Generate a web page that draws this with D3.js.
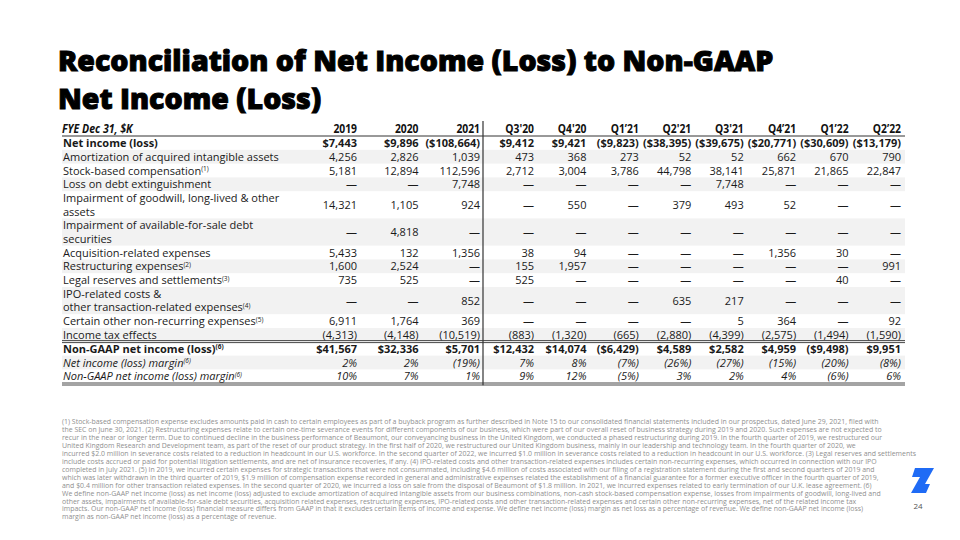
<!DOCTYPE html>
<html>
<head>
<meta charset="utf-8">
<script src="https://cdn.jsdelivr.net/npm/d3@7"></script>
<style>
body { margin: 0; background: #fff; }
svg text { font-family: "Open Sans", sans-serif; }
</style>
</head>
<body>
<div id="slide"></div>
<script>
// column headers
var periods = ["2019", "2020", "2021", "Q3'20", "Q4'20", "Q1\u201921", "Q2'21", "Q3'21", "Q4\u201921", "Q1\u201922", "Q2\u201922"];

// values in $K, null = dash
var netIncome = [7443, 9896, -108664, 9412, 9421, -9823, -38395, -39675, -20771, -30609, -13179];
var amortization = [4256, 2826, 1039, 473, 368, 273, 52, 52, 662, 670, 790];
var stockComp = [5181, 12894, 112596, 2712, 3004, 3786, 44798, 38141, 25871, 21865, 22847];
var debtLoss = [null, null, 7748, null, null, null, null, 7748, null, null, null];
var goodwillImpairment = [14321, 1105, 924, null, 550, null, 379, 493, 52, null, null];
var afsImpairment = [null, 4818, null, null, null, null, null, null, null, null, null];
var acquisition = [5433, 132, 1356, 38, 94, null, null, null, 1356, 30, null];
var restructuring = [1600, 2524, null, 155, 1957, null, null, null, null, null, 991];
var legalReserves = [735, 525, null, 525, null, null, null, null, null, 40, null];
var ipoCosts = [null, null, 852, null, null, null, 635, 217, null, null, null];
var otherNonRecurring = [6911, 1764, 369, null, null, null, null, 5, 364, null, 92];
var incomeTax = [-4313, -4148, -10519, -883, -1320, -665, -2880, -4399, -2575, -1494, -1590];
var nonGaapNetIncome = [41567, 32336, 5701, 12432, 14074, -6429, 4589, 2582, 4959, -9498, 9951];
// percent
var netMargin = [2, 2, -19, 7, 8, -7, -26, -27, -15, -20, -8];
var nonGaapMargin = [10, 7, 1, 9, 12, -5, 3, 2, 4, -6, 6];

var titleLines = ["Reconciliation of Net Income (Loss) to Non-GAAP", "Net Income (Loss)"];

var footnotes = [
  "(1) Stock-based compensation expense excludes amounts paid in cash to certain employees as part of a buyback program as further described in Note 15 to our consolidated financial statements included in our prospectus, dated June 29, 2021, filed with",
  "the SEC on June 30, 2021. (2) Restructuring expenses relate to certain one-time severance events for different components of our business, which were part of our overall reset of business strategy during 2019 and 2020. Such expenses are not expected to",
  "recur in the near or longer term. Due to continued decline in the business performance of Beaumont, our conveyancing business in the United Kingdom, we conducted a phased restructuring during 2019. In the fourth quarter of 2019, we restructured our",
  "United Kingdom Research and Development team, as part of the reset of our product strategy. In the first half of 2020, we restructured our United Kingdom business, mainly in our leadership and technology team.  In the fourth quarter of 2020, we",
  "incurred $2.0 million in severance costs related to a reduction in headcount in our U.S. workforce. In the second quarter of 2022, we incurred $1.0 million in severance costs related to a reduction in headcount in our U.S. workforce. (3) Legal reserves and settlements",
  "include costs accrued or paid for potential litigation settlements, and are net of insurance recoveries, if any. (4) IPO-related costs and other transaction-related expenses includes certain non-recurring expenses, which occurred in connection with our IPO",
  "completed in July 2021. (5) In 2019, we incurred certain expenses for strategic transactions that were not consummated, including $4.6 million of costs associated with our filing of a registration statement during the first and second quarters of 2019 and",
  "which was later withdrawn in the third quarter of 2019, $1.9 million of compensation expense recorded in general and administrative expenses related the establishment of a financial guarantee for a former executive officer in the fourth quarter of 2019,",
  "and $0.4 million for other transaction related expenses. In the second quarter of 2020, we incurred a loss on sale from the disposal of Beaumont of $1.8 million. In 2021, we incurred expenses related to early termination of our U.K. lease agreement. (6)",
  "We define non-GAAP net income (loss) as net income (loss) adjusted to exclude amortization of acquired intangible assets from our business combinations, non-cash stock-based compensation expense, losses from impairments of goodwill, long-lived and",
  "other assets, impairments of available-for-sale debt securities, acquisition related expenses, restructuring expenses, IPO-related costs and other transaction-related expenses and certain other non-recurring expenses, net of the related income tax",
  "impacts. Our non-GAAP net income (loss) financial measure differs from GAAP in that it excludes certain items of income and expense. We define net income (loss) margin as net loss as a percentage of revenue. We define non-GAAP net income (loss)",
  "margin as non-GAAP net income (loss) as a percentage of revenue."
];

var rows = [
  { label: ["Net income (loss)"], values: netIncome, kind: "dollar", weight: "bold" },
  { label: ["Amortization of acquired intangible assets"], values: amortization, kind: "num" },
  { label: ["Stock-based compensation"], sup: "(1)", values: stockComp, kind: "num" },
  { label: ["Loss on debt extinguishment"], values: debtLoss, kind: "num" },
  { label: ["Impairment of goodwill, long-lived & other", "assets"], values: goodwillImpairment, kind: "num" },
  { label: ["Impairment of available-for-sale debt", "securities"], values: afsImpairment, kind: "num" },
  { label: ["Acquisition-related expenses"], values: acquisition, kind: "num" },
  { label: ["Restructuring expenses"], sup: "(2)", values: restructuring, kind: "num" },
  { label: ["Legal reserves and settlements"], sup: "(3)", values: legalReserves, kind: "num" },
  { label: ["IPO-related costs &", "other transaction-related expenses"], sup: "(4)", values: ipoCosts, kind: "num" },
  { label: ["Certain other non-recurring expenses"], sup: "(5)", values: otherNonRecurring, kind: "num" },
  { label: ["Income tax effects"], values: incomeTax, kind: "num" },
  { label: ["Non-GAAP net income (loss)"], sup: "(6)", values: nonGaapNetIncome, kind: "dollar", weight: "bold" },
  { label: ["Net income (loss) margin"], sup: "(6)", values: netMargin, kind: "pct", italic: true },
  { label: ["Non-GAAP net income (loss) margin"], sup: "(6)", values: nonGaapMargin, kind: "pct", italic: true }
];

var width = 960, height = 540;
var left = 62, right = 905;
var rowH = 13.8, doubleH = 27.2, lineGap = 13.6;
var headerTop = 121, headerH = 15;

var svg = d3.select("#slide").append("svg")
    .attr("width", width)
    .attr("height", height);

var comma = d3.format(",");
function fmtValue(v, kind) {
    if (v === null) return "\u2014";
    if (kind === "pct") return v < 0 ? "(" + (-v) + "%)" : v + "%";
    if (kind === "dollar") return v < 0 ? "($" + comma(-v) + ")" : "$" + comma(v);
    return v < 0 ? "(" + comma(-v) + ")" : comma(v);
}

// squeeze text horizontally (condensed look)
function squeeze(sel, factor) {
    sel.each(function () {
        var len = this.getComputedTextLength();
        d3.select(this).attr("textLength", len * factor).attr("lengthAdjust", "spacingAndGlyphs");
    });
}

// x positions: right edges of the number columns
var xAnnual = d3.scaleLinear().domain([0, 2]).range([357, 480]);
var xQuarter = d3.scaleLinear().domain([3, 10]).range([534, 901]);
function colX(i) { return i < 3 ? xAnnual(i) : xQuarter(i); }

// y positions: cumulative row heights
var acc = headerTop + headerH;
rows.forEach(function (r) {
    r.h = r.label.length > 1 ? doubleH : rowH;
    r.y = acc;
    acc += r.h;
});
var tableBottom = acc;

// title: one text, two lines, squeezed to a condensed width
var title = svg.append("text")
    .style("font-size", "29px").style("font-weight", 800)
    .attr("fill", "#000").attr("stroke", "#000").attr("stroke-width", 1);
title.selectAll("tspan")
    .data(titleLines)
    .enter().append("tspan")
    .attr("x", 58)
    .attr("y", function (d, i) { return 71 + i * 38; })
    .text(function (d) { return d; });
var factor = 716 / title.select("tspan").node().getComputedTextLength();
title.attr("transform", "translate(58,0) scale(" + factor + ",1) translate(-58,0)");

// row backgrounds (every other row)
svg.selectAll(".band")
    .data(rows.filter(function (r, i) { return i % 2 === 1; }))
    .enter().append("rect")
    .attr("class", "band")
    .attr("x", left).attr("width", right - left)
    .attr("y", function (d) { return d.y; })
    .attr("height", function (d) { return d.h; })
    .attr("fill", "#f2f2f2");

// header row
var head = svg.append("g");
head.append("text")
    .attr("x", left).attr("y", headerTop + headerH / 2 + 4)
    .style("font-size", "12px").style("font-weight", 700).style("font-style", "italic")
    .attr("fill", "#111")
    .text("FYE Dec 31, $K")
    .call(squeeze, 0.88);
head.selectAll(".period")
    .data(periods)
    .enter().append("text")
    .attr("class", "period")
    .attr("x", function (d, i) { return colX(i); })
    .attr("y", headerTop + headerH / 2 + 4)
    .attr("text-anchor", "end")
    .style("font-size", "12px").style("font-weight", 700)
    .attr("fill", "#111")
    .text(function (d) { return d; })
    .call(squeeze, 0.86);

// body rows
var rowG = svg.selectAll(".row")
    .data(rows)
    .enter().append("g")
    .attr("class", "row")
    .attr("transform", function (d) { return "translate(0," + d.y + ")"; });

rowG.each(function (r) {
    var g = d3.select(this);
    var firstBase = r.h / 2 + 4 - (r.label.length - 1) * lineGap / 2;
    // one text per label, wrapped lines as tspans
    var t = g.append("text")
        .attr("y", firstBase)
        .style("font-size", "11px")
        .style("font-weight", r.weight || 400)
        .style("font-style", r.italic ? "italic" : "normal")
        .attr("fill", "#1a1a1a");
    r.label.forEach(function (line, k) {
        t.append("tspan")
            .attr("x", left + 1)
            .attr("y", firstBase + k * lineGap)
            .text(line);
    });
    if (r.sup) {
        t.append("tspan")
            .attr("dy", -3.5)
            .style("font-size", "6.5px")
            .text(r.sup);
    }
    g.selectAll(".val")
        .data(r.values)
        .enter().append("text")
        .attr("class", "val")
        .attr("x", function (d, i) { return colX(i); })
        .attr("y", r.h / 2 + 4)
        .attr("text-anchor", "end")
        .style("font-size", "11px")
        .style("font-weight", r.weight || 400)
        .style("font-style", r.italic ? "italic" : "normal")
        .attr("fill", "#1a1a1a")
        .text(function (d) { return fmtValue(d, r.kind); });
});

// rules
function hRule(y, w) {
    svg.append("line")
        .attr("x1", left).attr("x2", right)
        .attr("y1", y).attr("y2", y)
        .attr("stroke", "#333").attr("stroke-width", w);
}
var nonGaapRow = rows[12];
hRule(headerTop + headerH, 1);
hRule(nonGaapRow.y - 1.2, 0.9);
hRule(nonGaapRow.y + 0.8, 0.9);
hRule(tableBottom - 0.2, 0.9);
hRule(tableBottom + 1.8, 0.9);
svg.append("line")
    .attr("x1", 483).attr("x2", 483)
    .attr("y1", headerTop).attr("y2", tableBottom + 2)
    .attr("stroke", "#333").attr("stroke-width", 1.2);

// footnotes: one text block, one tspan per line
var notes = svg.append("text")
    .style("font-size", "6.95px")
    .attr("fill", "#8f8f8f");
notes.selectAll("tspan")
    .data(footnotes)
    .enter().append("tspan")
    .attr("x", left)
    .attr("y", function (d, i) { return 424 + i * 7.95; })
    .text(function (d) { return d; });

// logo and page number
svg.append("path")
    .attr("d", "M915,468 L934,468 L925,484 L930,484 L926,493 L911,493 L920,477 L912,477 Z")
    .attr("fill", "#1f6bf5");
svg.append("text")
    .attr("x", 918).attr("y", 509)
    .attr("text-anchor", "middle")
    .style("font-size", "8px")
    .attr("fill", "#555")
    .text("24");
</script>
</body>
</html>
